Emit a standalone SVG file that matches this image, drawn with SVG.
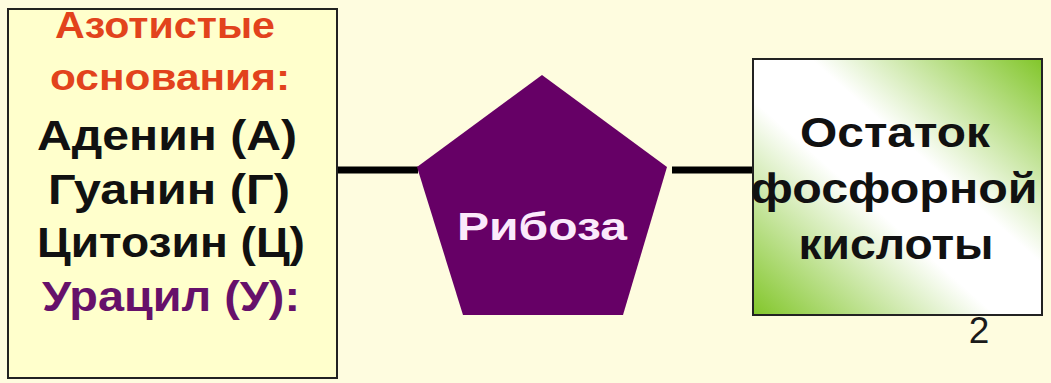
<svg xmlns="http://www.w3.org/2000/svg" width="1051" height="383" viewBox="0 0 1051 383">
  <defs>
    <linearGradient id="greenGrad" x1="1" y1="0" x2="0" y2="1">
      <stop offset="0" stop-color="#82C62A"/>
      <stop offset="0.4" stop-color="#FFFFFF"/>
      <stop offset="0.58" stop-color="#FFFFFF"/>
      <stop offset="1" stop-color="#82C62A"/>
    </linearGradient>
    <style>
      .box { stroke: #222; stroke-width: 2; }
      .t { font-family: "Liberation Sans", Arial, sans-serif; font-weight: bold; text-anchor: middle; }
      .big { font-size: 42px; fill: #111; }
      .red { font-size: 37px; fill: #E2431C; }
      .purple { font-size: 42px; fill: #66116A; }
      .link { stroke: #000; stroke-width: 7; fill: none; }
    </style>
  </defs>
  <rect x="0" y="0" width="1051" height="383" fill="#FEFCDF"/>

  <g id="connectors">
    <line class="link" x1="337" y1="170" x2="418" y2="170"/>
    <line class="link" x1="672" y1="170" x2="753" y2="170"/>
  </g>

  <g id="bases">
    <rect class="box" x="8" y="9" width="329" height="369" fill="#FFFFCC"/>
    <text class="t red" x="165" y="38" textLength="220" lengthAdjust="spacingAndGlyphs">Азотистые</text>
    <text class="t red" x="170" y="90" textLength="240" lengthAdjust="spacingAndGlyphs">основания:</text>
    <text class="t big" x="167" y="150" textLength="260" lengthAdjust="spacingAndGlyphs">Аденин (А)</text>
    <text class="t big" x="169" y="204" textLength="242" lengthAdjust="spacingAndGlyphs">Гуанин (Г)</text>
    <text class="t big" x="171" y="257" textLength="268" lengthAdjust="spacingAndGlyphs">Цитозин (Ц)</text>
    <text class="t purple" x="171" y="311" textLength="258" lengthAdjust="spacingAndGlyphs">Урацил (У):</text>
  </g>

  <g id="ribose">
    <polygon points="542,75 667,167 623,315 463,315 417,167" fill="#660066"/>
    <text class="t" x="542" y="240" font-size="38" fill="#FBEAFB" textLength="170" lengthAdjust="spacingAndGlyphs">Рибоза</text>
  </g>

  <g id="phosphate">
    <rect class="box" x="753" y="59" width="289" height="256" fill="url(#greenGrad)"/>
    <text class="t big" x="895" y="147" textLength="190" lengthAdjust="spacingAndGlyphs">Остаток</text>
    <text class="t big" x="894" y="203" textLength="287" lengthAdjust="spacingAndGlyphs">фосфорной</text>
    <text class="t big" x="896" y="259" textLength="195" lengthAdjust="spacingAndGlyphs">кислоты</text>
  </g>

  <text id="page-number" x="979" y="343" font-family="Liberation Sans, Arial, sans-serif" font-size="37" fill="#1A1A1A" text-anchor="middle">2</text>
</svg>
